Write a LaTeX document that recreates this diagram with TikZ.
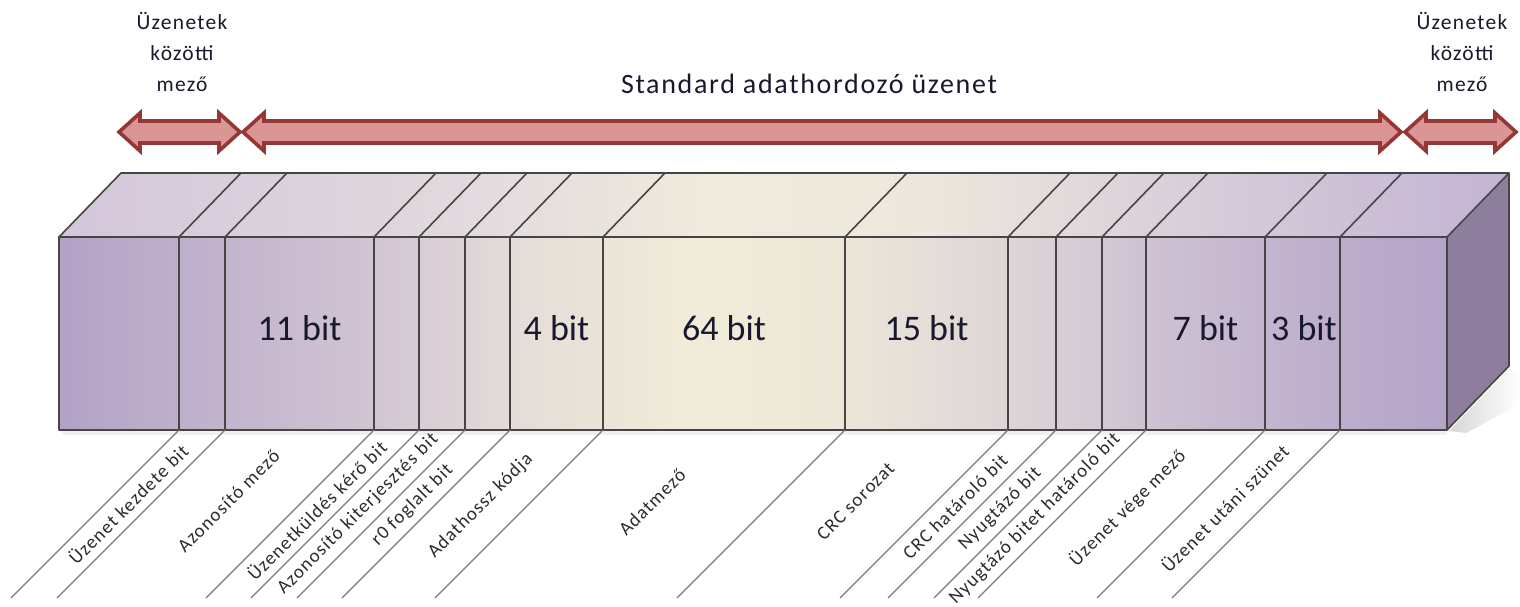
\documentclass[tikz,border=0pt]{standalone}
\usepackage{fontspec}
\setmainfont{Carlito}
\newfontfamily\lsfont[LetterSpace=6]{Carlito}
\definecolor{fa}{HTML}{B2A2C6}
\definecolor{fb}{HTML}{D1C5D3}
\definecolor{fc}{HTML}{E4DCD8}
\definecolor{fd}{HTML}{F1EBD9}
\definecolor{fe}{HTML}{EEE8D9}
\definecolor{ff}{HTML}{DED5D7}
\definecolor{fg}{HTML}{CEC2D3}
\definecolor{fh}{HTML}{BCADCB}
\definecolor{fi}{HTML}{B4A4C8}
\definecolor{ta}{HTML}{D3C6DA}
\definecolor{tb}{HTML}{E3DBDE}
\definecolor{tc}{HTML}{F0EBDD}
\definecolor{td}{HTML}{EDE7DD}
\definecolor{te}{HTML}{D6CBD9}
\definecolor{tf}{HTML}{C3B4D3}
\definecolor{sideC}{HTML}{8D7E9E}
\definecolor{edgeC}{HTML}{454545}
\definecolor{arrowLine}{HTML}{953735}
\definecolor{arrowFill}{HTML}{D99694}
\definecolor{leadC}{HTML}{7A7A7A}
\definecolor{txtC}{HTML}{18182E}
\definecolor{labC}{HTML}{2B2B2B}
\pgfdeclarehorizontalshading{frontsh}{100bp}{color(0bp)=(fa); color(25bp)=(fa);
  color(36.4bp)=(fb); color(41.3bp)=(fc); color(47.5bp)=(fd); color(52.5bp)=(fe);
  color(59.2bp)=(ff); color(64.2bp)=(fg); color(71.2bp)=(fh); color(75bp)=(fi); color(100bp)=(fi)}
\pgfdeclarehorizontalshading{topsh}{100bp}{color(0bp)=(ta); color(25bp)=(ta);
  color(40bp)=(tb); color(47.5bp)=(tc); color(55bp)=(td); color(65bp)=(te);
  color(75bp)=(tf); color(100bp)=(tf)}
\newcommand\dblarr[2]{%
  \draw[blockarrow] (#1,132) -- ({#1+21},113) -- ({#1+21},121) -- ({#2-21},121)
    -- ({#2-21},113) -- (#2,132) -- ({#2-21},151) -- ({#2-21},143)
    -- ({#1+21},143) -- ({#1+21},151) -- cycle;}
\begin{document}
\begin{tikzpicture}[x=1pt,y=-1pt,
  edge/.style={draw=edgeC, line width=1.6pt},
  lead/.style={draw=leadC, line width=1.3pt},
  blockarrow/.style={draw=arrowLine, fill=arrowFill, line width=3.6pt, line join=miter},
  big/.style={inner sep=0pt, text=txtC, font=\fontsize{36}{40}\selectfont},
  head/.style={inner sep=0pt, text=txtC, font=\lsfont\fontsize{28}{32}\selectfont},
  side/.style={inner sep=0pt, text=txtC, align=center, font=\lsfont\fontsize{21.5}{31}\selectfont},
  lab/.style={inner sep=0pt, text=labC, rotate=45, font=\lsfont\fontsize{19}{21}\selectfont}]
\useasboundingbox (0,0) rectangle (1520,607);

% shadow
\shade[left color=black!16, right color=white] (1449,431) -- (1509,369) -- (1520,371) -- (1520,404) -- (1466,433) -- cycle;
\fill[black!6] (62,430) rectangle (1447,435);

% box faces
\shade[shading=frontsh] (59,237) rectangle (1447,430);
\shade[shading=topsh] (59,237) -- (121,173) -- (1509,173) -- (1447,237) -- cycle;
\fill[sideC] (1447,237) -- (1509,173) -- (1509,366) -- (1447,430) -- cycle;
\draw[edge, line join=round] (59,237) rectangle (1447,430);
\draw[edge, line join=round] (59,237) -- (121,173) -- (1509,173) -- (1447,237);
\draw[edge, line join=round] (1509,173) -- (1509,366) -- (1447,430);

% dividers and leader lines
\foreach \x in {179,225,374,419,465,510,603,845,1008,1056,1102,1146,1265,1340} {
  \coordinate (d\x) at (\x,430);
  \draw[edge] (d\x) -- (\x,237) -- ++(62,-64);
  \draw[lead] (d\x) -- ++(-168,168);
}

% block arrows
\dblarr{119}{240}
\dblarr{243}{1401}
\dblarr{1405}{1516}

% top texts
\node[head, anchor=base] (title) at (809,94) {Standard adathordozó üzenet};
\node[side] (gapL) at (182,51.5) {Üzenetek\\közötti\\mező};
\node[side] (gapR) at (1462,51.5) {Üzenetek\\közötti\\mező};

% bit counts
\node[big, anchor=base] (b11) at (299.5,340) {11 bit};
\node[big, anchor=base] (b4) at (556.5,340) {4 bit};
\node[big, anchor=base] (b64) at (724,340) {64 bit};
\node[big, anchor=base] (b15) at (926.5,340) {15 bit};
\node[big, anchor=base] (b7) at (1205.5,340) {7 bit};
\node[big, anchor=base] (b3) at (1304,340) {3 bit};

% field labels
\node[lab] (l1) at (128,504) {Üzenet kezdete bit};
\node[lab] (l2) at (228.5,501) {Azonosító mező};
\node[lab] (l3) at (316.5,510) {Üzenetküldés kérő bit};
\node[lab] (l4) at (358,514) {Azonosító kiterjesztés bit};
\node[lab] (l5) at (412.5,505) {r0 foglalt bit};
\node[lab] (l6) at (480.5,506) {Adathossz kódja};
\node[lab] (l7) at (652,502) {Adatmező};
\node[lab] (l8) at (855.5,501) {CRC sorozat};
\node[lab] (l9) at (955,507) {CRC határoló bit};
\node[lab] (l10) at (1000,509) {Nyugtázó bit};
\node[lab] (l11) at (1035,519) {Nyugtázó bitet határoló bit};
\node[lab] (l12) at (1127.5,508) {Üzenet vége mező};
\node[lab] (l13) at (1224.5,508) {Üzenet utáni szünet};
\end{tikzpicture}
\end{document}
